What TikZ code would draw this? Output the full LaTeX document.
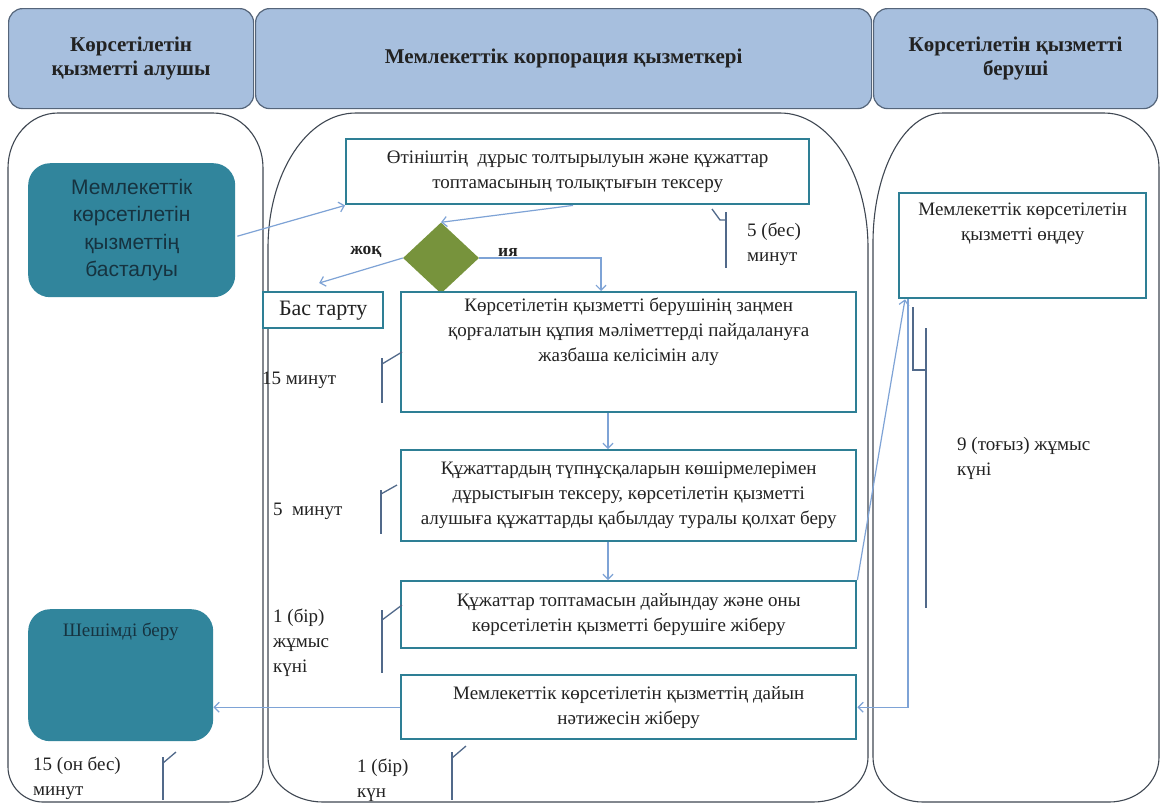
\documentclass[tikz,border=0pt]{standalone}
\usepackage{fontspec}
\setmainfont{Liberation Serif}
\newfontfamily\arialf{Liberation Sans}
\usetikzlibrary{arrows.meta,calc,shapes.geometric}
\definecolor{hdrfill}{HTML}{A7BFDE}
\definecolor{hdrdraw}{HTML}{55657A}
\definecolor{lanedraw}{HTML}{3F4752}
\definecolor{tealfill}{HTML}{31859C}
\definecolor{boxdraw}{HTML}{2E7F95}
\definecolor{dgreen}{HTML}{77933C}
\definecolor{arrowc}{HTML}{7EA3D6}
\definecolor{brk}{HTML}{51698A}
\definecolor{txt}{HTML}{222222}
\definecolor{starttxt}{HTML}{163340}
\newcommand\bxfont{\fontsize{19}{25}\selectfont}
\begin{document}
\begin{tikzpicture}[x=1pt,y=-1pt,
  hdr/.style={draw=hdrdraw, fill=hdrfill, rounded corners=14pt, line width=1.2pt,
    font=\bfseries\fontsize{21}{23.5}\selectfont, align=center, inner sep=0, anchor=north west, text=txt},
  lane/.style={draw=lanedraw, line width=1.1pt},
  box/.style={draw=boxdraw, line width=2.4pt, fill=white, align=center, font=\bxfont,
    inner sep=0, anchor=north west, text=txt},
  tealbox/.style={fill=tealfill, rounded corners=22pt, draw=none, anchor=north west, inner sep=0},
  flow/.style={draw=arrowc, line width=1.2pt, -{Straight Barb[length=5pt,width=10pt]}},
  brace/.style={draw=brk, line width=1.3pt},
  tlabel/.style={font=\bxfont, align=left, inner sep=0, anchor=west, text=txt},
  yn/.style={font=\bfseries\fontsize{17.5}{20}\selectfont, inner sep=0, text=txt}]
\useasboundingbox[fill=white] (0,0) rectangle (1161,804);

% headers
\node[hdr, minimum width=245, minimum height=100] (hL) at (8,8) {Көрсетілетін\\қызметті алушы};
\node[hdr, minimum width=616, minimum height=100] (hM) at (255,8) {Мемлекеттік корпорация қызметкері};
\node[hdr, minimum width=284, minimum height=100] (hR) at (873,8) {Көрсетілетін қызметті\\беруші};

% lanes
\draw[lane] (8,767) -- (8,168) .. controls (8,138) and (30,113) .. (58,113) -- (213,113)
  .. controls (241,113) and (263,138) .. (263,168) -- (263,767)
  .. controls (263,786) and (247,802) .. (228,802) -- (43,802)
  .. controls (24,802) and (8,786) .. (8,767) -- cycle;
\draw[lane] (268,757) -- (268,248) .. controls (268,173) and (307,113) .. (356,113) -- (780,113)
  .. controls (829,113) and (868,173) .. (868,248) -- (868,757)
  .. controls (868,782) and (843,802) .. (813,802) -- (323,802)
  .. controls (293,802) and (268,782) .. (268,757) -- cycle;
\draw[lane] (873,757) -- (873,243) .. controls (873,171) and (904,113) .. (943,113) -- (1104,113)
  .. controls (1135,113) and (1159,138) .. (1159,168) -- (1159,757)
  .. controls (1159,782) and (1137,802) .. (1109,802) -- (923,802)
  .. controls (895,802) and (873,782) .. (873,757) -- cycle;

% nodes
\node[tealbox, minimum width=207, minimum height=134, align=center, text=starttxt,
  font=\arialf\fontsize{21}{27.5}\selectfont] (start) at (28,163)
  {Мемлекеттік\\көрсетілетін\\қызметтің\\басталуы};
\node[box, minimum width=463, minimum height=65] (box1) at (345,138)
  {Өтініштің~ дұрыс толтырылуын және құжаттар\\топтамасының толықтығын тексеру};
\node[diamond, fill=dgreen, minimum width=76, minimum height=71, inner sep=0] (diam) at (441,258) {};
\node[yn] (no) at (366,252) {жоқ};
\node[yn] (yes) at (508,252) {ия};
\node[box, minimum width=120, minimum height=36, font=\fontsize{22}{25}\selectfont] (refuse) at (262,291) {Бас тарту};
\node[box, minimum width=455, minimum height=120] (box2) at (400,291)
  {\parbox[c][108pt][t]{450pt}{\centering Көрсетілетін қызметті берушінің заңмен\\қорғалатын құпия мәліметтерді пайдалануға\\жазбаша келісімін алу}};
\node[box, minimum width=455, minimum height=91] (box3) at (400,449)
  {Құжаттардың түпнұсқаларын көшірмелерімен\\дұрыстығын тексеру, көрсетілетін қызметті\\алушыға құжаттарды қабылдау туралы қолхат беру};
\node[box, minimum width=455, minimum height=67] (box4) at (400,580)
  {Құжаттар топтамасын дайындау және оны\\көрсетілетін қызметті берушіге жіберу};
\node[box, minimum width=455, minimum height=64] (box5) at (400,674)
  {Мемлекеттік көрсетілетін қызметтің дайын\\нәтижесін жіберу};
\node[box, minimum width=247, minimum height=105] (rbox) at (898,192)
  {\parbox[c][85pt][t]{240pt}{\centering Мемлекеттік көрсетілетін\\қызметті өңдеу}};
\node[tealbox, minimum width=185, minimum height=132, text=starttxt, font=\bxfont] (end) at (28,609)
  {\parbox[c][104pt][t]{180pt}{\centering Шешімді беру}};

% time labels
\node[tlabel] (t1) at (747,244) {5 (бес)\\минут};
\node[tlabel] (t2) at (262,380) {15 минут};
\node[tlabel] (t3) at (273,511) {5~ минут};
\node[tlabel] (t4) at (273,643) {1 (бір)\\жұмыс\\күні};
\node[tlabel] (t5) at (33,778) {15 (он бес)\\минут};
\node[tlabel] (t6) at (357,780) {1 (бір)\\күн};
\node[tlabel] (t7) at (957,458) {9 (тоғыз) жұмыс\\күні};

% brackets
\draw[brace] (712,209) -- (720,220) -- (726,220);
\draw[brace] (726,212) -- (726,268);
\draw[brace] (382,358) -- (382,403);
\draw[brace] (382,364) -- (402,352);
\draw[brace] (381,490) -- (381,534);
\draw[brace] (381,494) -- (397,485);
\draw[brace] (382,610) -- (382,673);
\draw[brace] (382,620) -- (402,605);
\draw[brace] (163,757) -- (163,800);
\draw[brace] (163,763) -- (176,752);
\draw[brace] (452,752) -- (452,800);
\draw[brace] (452,758) -- (466,746);
\draw[brace] (913,307) -- (913,370) -- (926,370);
\draw[brace] (926,328) -- (926,608);

% connectors
\draw[flow] ($(start.east)+(2,6)$) -- (box1.south west);
\draw[flow] ($(box1.south west)+(228,0)$) -- (diam.north);
\draw[flow] (diam.west) -- ($(refuse.north)+(-4,-8)$);
\draw[flow] (diam.east) -| ($(box2.north west)+(201,0)$);
\draw[flow] ($(box2.south west)+(208,0)$) -- ($(box3.north west)+(208,0)$);
\draw[flow] ($(box3.south west)+(208,0)$) -- ($(box4.north west)+(208,0)$);
\draw[flow] (box4.north east) -- ($(rbox.south west)+(7,0)$);
\draw[flow] ($(rbox.south west)+(10,0)$) |- (box5.east);
\draw[flow] (box5.west) -- (box5.west -| end.east);
\end{tikzpicture}
\end{document}
